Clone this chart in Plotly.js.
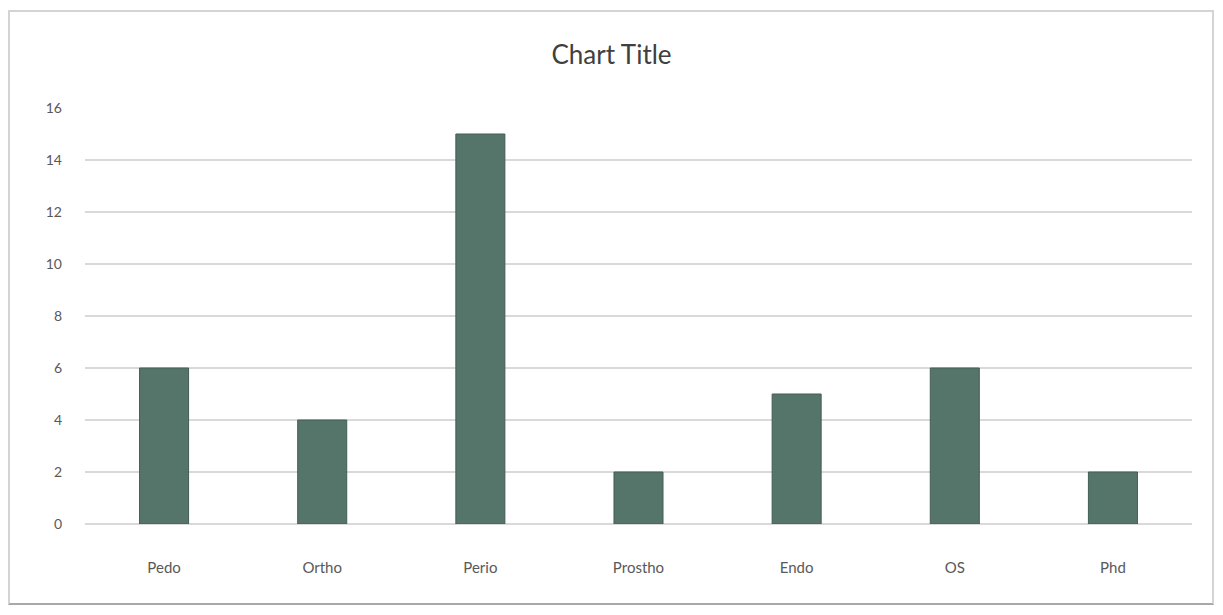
<!DOCTYPE html>
<html>
<head>
<meta charset="utf-8">
<script src="https://cdn.plot.ly/plotly-3.0.1.min.js"></script>
<style>
html,body{margin:0;padding:0;background:#fff;}
#wrap{position:relative;width:1223px;height:615px;}
#chart{width:1223px;height:615px;}
#frame{position:absolute;left:8px;top:10px;width:1206px;height:595px;border:2px solid #d4d4d4;border-bottom-color:#a8a8a8;pointer-events:none;box-sizing:border-box;}
</style>
</head>
<body>
<div id="wrap">
<div id="chart"></div>
<div id="frame"></div>
</div>
<script>
const categories = ["Pedo", "Ortho", "Perio", "Prostho", "Endo", "OS", "Phd"];
const values = [6, 4, 15, 2, 5, 6, 2];
const yTicks = [0, 2, 4, 6, 8, 10, 12, 14, 16];

const trace = {
  type: "bar",
  x: categories,
  y: values,
  marker: {color: "#55746a", line: {color: "#425e54", width: 1}},
  hoverinfo: "x+y"
};

const layout = {
  width: 1223,
  height: 615,
  margin: {l: 85, r: 31, t: 108, b: 91},
  paper_bgcolor: "#ffffff",
  plot_bgcolor: "#ffffff",
  showlegend: false,
  bargap: 0.69,
  font: {family: "Lato, 'Open Sans', sans-serif", color: "#595959", size: 15},
  title: {
    text: "Chart Title",
    font: {family: "Lato, 'Open Sans', sans-serif", size: 26, color: "#404040"},
    x: 0.5, xanchor: "center",
    y: 1 - 55/615, yanchor: "middle"
  },
  xaxis: {
    type: "category",
    showgrid: false,
    showline: false,
    zeroline: false,
    ticks: "",
    ticklabelstandoff: 33,
    tickfont: {size: 15, color: "#595959"}
  },
  yaxis: {
    range: [0, 16],
    tickvals: yTicks,
    ticktext: yTicks.map(String),
    showgrid: true,
    gridcolor: "#d9d9d9",
    gridwidth: 2,
    zeroline: true,
    zerolinecolor: "#d9d9d9",
    zerolinewidth: 2,
    showline: false,
    ticks: "",
    ticklabelstandoff: 22,
    tickfont: {size: 14, color: "#595959"}
  }
};

Plotly.newPlot("chart", [trace], layout, {displayModeBar: false, staticPlot: true});
</script>
</body>
</html>
